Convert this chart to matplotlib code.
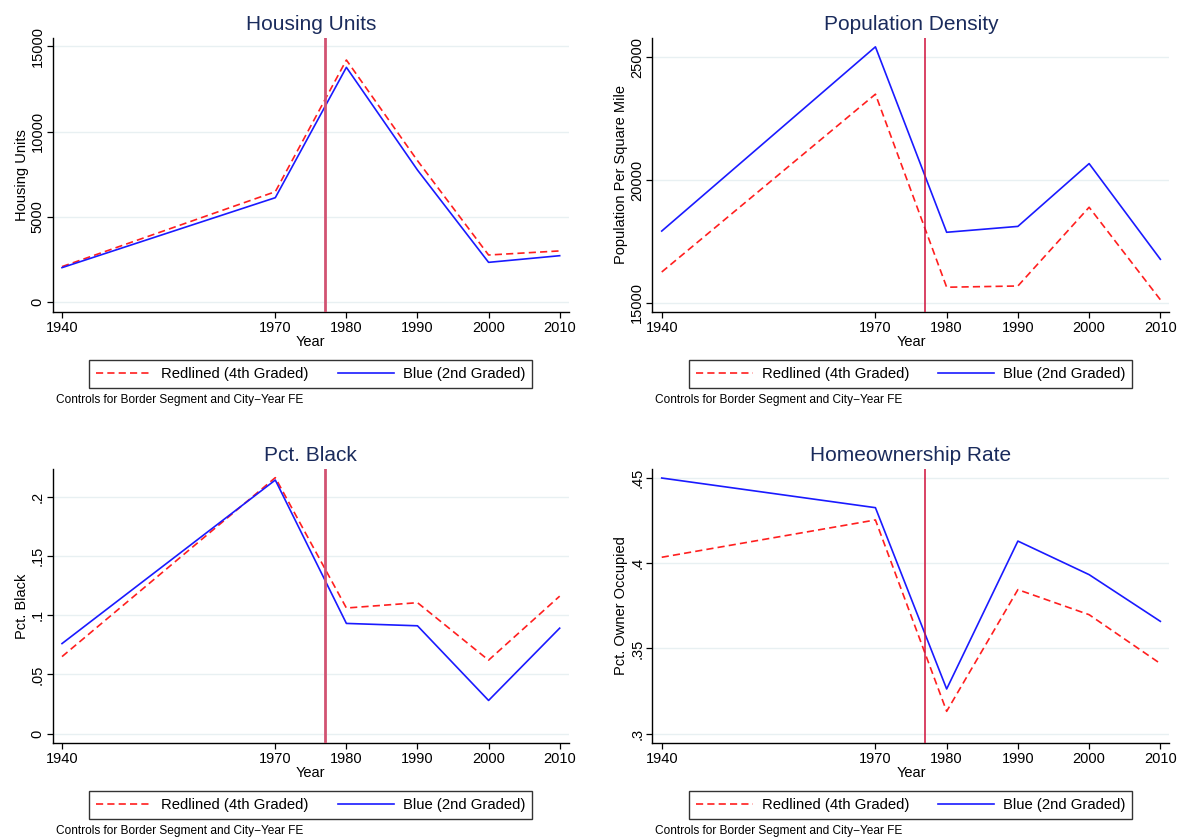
import matplotlib.pyplot as plt
from matplotlib.lines import Line2D

plt.rcParams['font.family'] = ['Liberation Sans', 'DejaVu Sans']

years = [1940, 1970, 1980, 1990, 2000, 2010]

housing_red = [2090, 6480, 14200, 8300, 2770, 3010]
housing_blue = [2030, 6130, 13770, 7750, 2340, 2730]

density_red = [16250, 23500, 15630, 15680, 18890, 15120]
density_blue = [17920, 25430, 17870, 18110, 20670, 16770]

black_red = [0.065, 0.216, 0.106, 0.1105, 0.062, 0.116]
black_blue = [0.076, 0.214, 0.093, 0.091, 0.028, 0.089]

owner_red = [0.4035, 0.4254, 0.3131, 0.3845, 0.3698, 0.3411]
owner_blue = [0.4500, 0.4326, 0.3262, 0.4130, 0.3933, 0.3659]

titles = ["Housing Units", "Population Density", "Pct. Black", "Homeownership Rate"]
ylabels = ["Housing Units", "Population Per Square Mile", "Pct. Black", "Pct. Owner Occupied"]
yticks = [[0, 5000, 10000, 15000],
          [15000, 20000, 25000],
          [0, 0.05, 0.1, 0.15, 0.2],
          [0.3, 0.35, 0.4, 0.45]]
yticklabels = [["0", "5000", "10000", "15000"],
               ["15000", "20000", "25000"],
               ["0", ".05", ".1", ".15", ".2"],
               [".3", ".35", ".4", ".45"]]
ylims = [(-570, 15490), (14620, 25790), (-0.0079, 0.2233), (0.2945, 0.4553)]
series = [(housing_red, housing_blue), (density_red, density_blue),
          (black_red, black_blue), (owner_red, owner_blue)]
vline_style = [("#d25372", 2.0), ("#d0103a", 1.1), ("#d25372", 2.0), ("#d0103a", 1.1)]

W, H = 1182, 840
fig = plt.figure(figsize=(W / 100, H / 100), dpi=100)

# axes boxes in pixels: left, top, right, bottom
boxes = [(52.7, 38, 568.7, 312), (652.4, 38, 1169.4, 312),
         (52.7, 469, 568.7, 743), (652.4, 469, 1169.4, 743)]

title_col = "#1a2b5c"
red = "#ff1f1f"
blue = "#1a1aff"
dash = (4.3, 2.5)

for i, (l, t, r, b) in enumerate(boxes):
    ax = fig.add_axes([l / W, 1 - b / H, (r - l) / W, (b - t) / H])
    red_y, blue_y = series[i]
    ax.plot(years, red_y, color=red, lw=1.2, dashes=dash)
    ax.plot(years, blue_y, color=blue, lw=1.2)
    col, lw = vline_style[i]
    ax.axvline(1977, color=col, lw=lw, zorder=3)

    ax.set_xlim(1938.69, 2011.27)
    ax.set_ylim(*ylims[i])
    ax.set_xticks(years)
    ax.set_yticks(yticks[i])
    ax.set_yticklabels(yticklabels[i], rotation=90, va="center")
    ax.grid(axis="y", color="#e8f0f2", lw=1.0)
    ax.set_axisbelow(True)
    for s in ["top", "right"]:
        ax.spines[s].set_visible(False)
    for s in ["left", "bottom"]:
        ax.spines[s].set_linewidth(1.0)
    ax.tick_params(direction="out", length=4.3, width=0.9, labelsize=10.5)
    ax.tick_params(axis="y", pad=1.5)
    ax.tick_params(axis="x", pad=2.5)
    ax.set_xlabel("Year", fontsize=10.5, labelpad=0)
    ax.set_ylabel(ylabels[i], fontsize=10.5, labelpad=1.5)
    ax.set_title(titles[i], fontsize=15, color=title_col, pad=6)

    # legend box below each panel
    handles = [Line2D([], [], color=red, lw=1.2, dashes=dash),
               Line2D([], [], color=blue, lw=1.2)]
    leg = ax.legend(handles, ["Redlined (4th Graded)", "Blue (2nd Graded)"],
                    loc="center", bbox_to_anchor=((l + r) / 2 / W, 1 - (b + 62) / H),
                    bbox_transform=fig.transFigure, ncol=2, fontsize=10.7,
                    frameon=True, fancybox=False, edgecolor="black",
                    handlelength=3.8, columnspacing=1.95, borderpad=0.45,
                    handletextpad=0.6, borderaxespad=0)
    leg.get_frame().set_linewidth(1.0)
    fig.text((l + 3) / W, 1 - (b + 88) / H, "Controls for Border Segment and City\u2212Year FE",
             fontsize=8.6, va="center", ha="left")

fig.savefig("out.png", dpi=100, facecolor="white")
